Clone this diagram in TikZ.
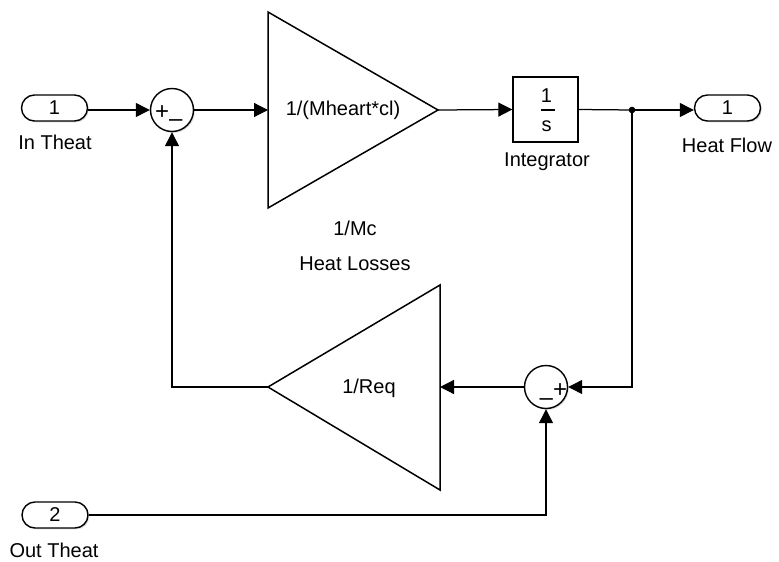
\documentclass[tikz,border=0pt]{standalone}
\usepackage{fontspec}
\setmainfont{Liberation Sans}
\usetikzlibrary{arrows.meta,shapes.misc,shadows}
\begin{document}
\begin{tikzpicture}[x=1pt,y=-1pt,
  font=\fontsize{20}{24}\selectfont,
  shad/.style={drop shadow={shadow xshift=1.3pt,shadow yshift=-1.3pt,opacity=0.3}},
  blk/.style={draw, line width=1.4pt, fill=white},
  port/.style={blk, shad, rounded rectangle, minimum width=66pt, minimum height=26pt, inner sep=0pt},
  sumb/.style={blk, shad, circle, minimum size=43pt, inner sep=0pt},
  boxb/.style={blk, shad, minimum width=65pt, minimum height=65pt, inner sep=0pt},
  tri/.style={draw, line width=1.5pt, line join=miter},
  wire/.style={line width=1.25pt},
  arr/.style={wire, -{Triangle[length=14pt,width=14pt]}},
  lbl/.style={inner sep=0pt},
  sign/.style={inner sep=0pt, anchor=base west, font=\fontsize{24}{28}\selectfont}
]
\useasboundingbox (0,0) rectangle (779,562);

% ports
\node[port] (in1) at (54.5,108) {1};
\node[lbl] (in1l) at (55,142.5) {In Theat};
\node[port] (in2) at (55,515) {2};
\node[lbl] (in2l) at (54,550.5) {Out Theat};
\node[port] (out1) at (727.5,108) {1};
\node[lbl] (out1l) at (727,145) {Heat Flow};

% sums
\node[sumb] (sum1) at (172,110) {};
\node[sign] (s1) at (155,119) {+\raisebox{-7.5pt}{–}};
\node[sumb] (sum2) at (546,387) {};
\node[sign] (s2) at (539.5,397) {\raisebox{-8.5pt}{–}+};

% gain 1
\draw[tri] (268,12) -- (438,110) -- (268,208) -- cycle;
\coordinate (g1in) at (268,110);
\coordinate (g1out) at (438,110);
\node[lbl] (g1) at (343,110) {1/(Mheart*cl)};
\node[lbl] (g1l) at (355,228) {1/Mc};

% gain 2
\draw[tri] (440,285) -- (268,387) -- (440,490) -- cycle;
\coordinate (g2in) at (440,387);
\coordinate (g2out) at (268,387);
\node[lbl] (g2) at (369,388) {1/Req};
\node[lbl] (g2l) at (355,263.5) {Heat Losses};

% integrator
\node[boxb] (intg) at (545.5,109.5) {};
\node[lbl] (i1) at (546.5,95.5) {1};
\draw[line width=1.2pt] (541,110) -- (555,110);
\node[lbl] (is) at (546.5,126) {s};
\node[lbl] (intgl) at (547,161.5) {Integrator};

% branch point
\coordinate (branch) at (632,110);

% wires
\draw[arr] (in1.east |- sum1.west) -- (sum1.west);
\draw[arr] (sum1.east) -- (g1in);
\draw[arr] (g1out) -- (intg.west);
\draw[wire] (intg.east) -- (branch);
\draw[arr] (branch) -- (branch -| out1.west);
\fill (branch) circle (3.3pt);
\draw[arr] (branch) |- (sum2.east);
\draw[arr] (sum2.west) -- (g2in);
\draw[arr] (g2out) -| (sum1.south);
\draw[arr] (in2.east) -| (sum2.south);
\end{tikzpicture}
\end{document}
